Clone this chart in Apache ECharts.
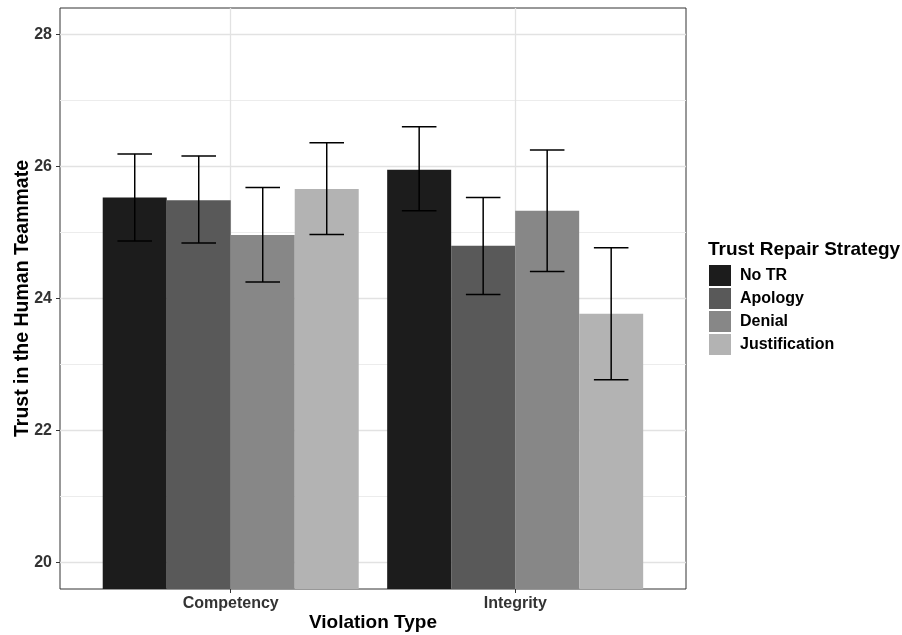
<!DOCTYPE html>
<html>
<head>
<meta charset="utf-8">
<script src="https://cdn.jsdelivr.net/npm/echarts@6/dist/echarts.min.js"></script>
<style>
html,body{margin:0;padding:0;background:#fff;}
#chart{width:902px;height:635px;}
</style>
</head>
<body>
<div id="chart"></div>
<script>
// ---- data ----
const categories = ['Competency', 'Integrity'];
const strategies = ['No TR', 'Apology', 'Denial', 'Justification'];
const noTR = [25.53, 25.95];
const apology = [25.49, 24.80];
const denial = [24.96, 25.33];
const justification = [25.66, 23.77];
const noTRLow = [24.87, 25.33];
const noTRHigh = [26.19, 26.60];
const apologyLow = [24.84, 24.06];
const apologyHigh = [26.16, 25.53];
const denialLow = [24.25, 24.41];
const denialHigh = [25.68, 26.25];
const justificationLow = [24.97, 22.77];
const justificationHigh = [26.36, 24.77];
const yTicks = [20, 22, 24, 26, 28];
const yMinor = [21, 23, 25, 27];
const xTicks = [1, 2];

// ---- build ----
const values = [noTR, apology, denial, justification];
const lows = [noTRLow, apologyLow, denialLow, justificationLow];
const highs = [noTRHigh, apologyHigh, denialHigh, justificationHigh];
const colors = ['#1c1c1c', '#595959', '#878787', '#b3b3b3'];
const FONT = 'Liberation Sans, Arial, sans-serif';

const errData = [];
for (let s = 0; s < strategies.length; s++) {
  for (let c = 0; c < categories.length; c++) {
    errData.push([c, s, lows[s][c], highs[s][c]]);
  }
}

const barSeries = strategies.map((name, i) => ({
  name: name,
  type: 'bar',
  xAxisIndex: 1,
  yAxisIndex: 1,
  data: values[i],
  barGap: '0%',
  barCategoryGap: '10%',
  itemStyle: { color: colors[i] },
  z: 10,
  silent: true
}));

const chart = echarts.init(document.getElementById('chart'), null, { renderer: 'canvas' });

const option = {
  animation: false,
  backgroundColor: '#ffffff',
  textStyle: { fontFamily: FONT },
  grid: [
    { left: 60, right: 216, top: 8, bottom: 46, show: true, borderColor: '#333333', borderWidth: 1, backgroundColor: 'transparent', containLabel: false, outerBoundsMode: 'none' },
    { left: 88.5, right: 244.6, top: 8, bottom: 46, containLabel: false, outerBoundsMode: 'none' }
  ],
  xAxis: [
    {
      type: 'value', gridIndex: 0, min: 0.4, max: 2.6,
      axisLine: { show: false },
      splitLine: { show: false },
      axisTick: { show: true, customValues: xTicks, length: 4, lineStyle: { color: '#333333', width: 1 } },
      axisLabel: {
        customValues: xTicks,
        formatter: v => categories[Math.round(v) - 1] || '',
        fontSize: 16, fontWeight: 'bold', color: '#333333', margin: 7, fontFamily: FONT
      },
      name: 'Violation Type', nameLocation: 'middle', nameGap: 24, nameMoveOverlap: false,
      nameTextStyle: { fontSize: 19, fontWeight: 'bold', color: '#000000', fontFamily: FONT }
    },
    {
      type: 'category', gridIndex: 1, data: categories,
      axisLine: { show: false }, axisTick: { show: false }, axisLabel: { show: false }, splitLine: { show: false }
    }
  ],
  yAxis: [
    {
      type: 'value', gridIndex: 0, min: 19.6, max: 28.4,
      axisLine: { show: false },
      splitLine: { show: false },
      axisTick: { show: true, customValues: yTicks, length: 4, lineStyle: { color: '#333333', width: 1 } },
      axisLabel: {
        customValues: yTicks,
        fontSize: 16, fontWeight: 'bold', color: '#333333', margin: 8, fontFamily: FONT
      },
      name: 'Trust in the Human Teammate', nameLocation: 'middle', nameGap: 27, nameMoveOverlap: false,
      nameTextStyle: { fontSize: 19.5, fontWeight: 'bold', color: '#000000', fontFamily: FONT }
    },
    {
      type: 'value', gridIndex: 1, min: 19.6, max: 28.4,
      axisLine: { show: false }, axisTick: { show: false }, axisLabel: { show: false }, splitLine: { show: false }
    }
  ],
  legend: {
    data: strategies,
    orient: 'vertical',
    left: 709, top: 265, padding: 0,
    itemWidth: 22, itemHeight: 21, itemGap: 2,
    icon: 'rect',
    selectedMode: false,
    textStyle: { fontSize: 16, fontWeight: 'bold', color: '#000000', fontFamily: FONT, padding: [0, 0, 0, 4] }
  },
  graphic: [
    {
      type: 'text', left: 708, top: 240,
      style: { text: 'Trust Repair Strategy', fontSize: 19, fontWeight: 'bold', fill: '#000000', fontFamily: FONT }
    }
  ],
  series: [
    {
      type: 'line', xAxisIndex: 0, yAxisIndex: 0, data: [], silent: true, z: 1,
      markLine: {
        silent: true, symbol: 'none', label: { show: false }, animation: false,
        data: [
          ...yMinor.map(v => ({ yAxis: v, lineStyle: { color: '#ececec', width: 1, type: 'solid' } })),
          ...yTicks.map(v => ({ yAxis: v, lineStyle: { color: '#e2e2e2', width: 1.3, type: 'solid' } })),
          ...xTicks.map(v => ({ xAxis: v, lineStyle: { color: '#e2e2e2', width: 1.3, type: 'solid' } }))
        ]
      }
    },
    ...barSeries,
    {
      type: 'custom',
      xAxisIndex: 1, yAxisIndex: 1,
      data: errData,
      encode: { x: 0, y: [2, 3] },
      z: 20,
      silent: true,
      renderItem: function (params, api) {
        const ci = api.value(0), si = api.value(1), lo = api.value(2), hi = api.value(3);
        const band = api.size([1, 0])[0];
        const bw = band * 0.9 / strategies.length;
        const pLo = api.coord([ci, lo]);
        const pHi = api.coord([ci, hi]);
        const cx = pLo[0] + (si - (strategies.length - 1) / 2) * bw;
        const half = bw * 0.27;
        const st = { stroke: '#000000', lineWidth: 1.5 };
        return {
          type: 'group',
          children: [
            { type: 'line', shape: { x1: cx, y1: pLo[1], x2: cx, y2: pHi[1] }, style: st },
            { type: 'line', shape: { x1: cx - half, y1: pLo[1], x2: cx + half, y2: pLo[1] }, style: st },
            { type: 'line', shape: { x1: cx - half, y1: pHi[1], x2: cx + half, y2: pHi[1] }, style: st }
          ]
        };
      }
    }
  ]
};
chart.setOption(option);
</script>
</body>
</html>
